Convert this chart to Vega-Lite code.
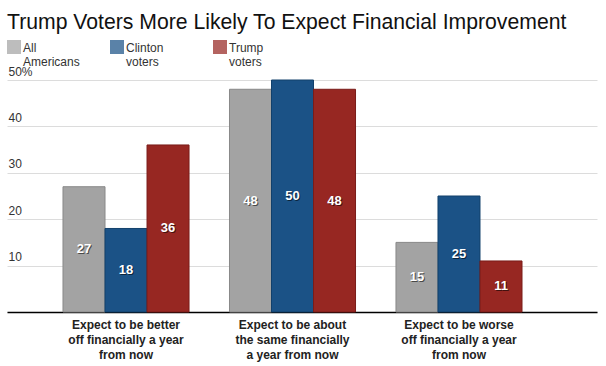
{
  "$schema": "https://vega.github.io/schema/vega-lite/v6.json",
  "autosize": "none",
  "width": 590,
  "height": 232,
  "padding": {"left": 7, "top": 80, "right": 9, "bottom": 54},
  "title": {
    "text": "Trump Voters More Likely To Expect Financial Improvement",
    "anchor": "start",
    "frame": "group",
    "font": "Liberation Sans",
    "fontSize": 21.2,
    "fontWeight": "normal",
    "color": "#111",
    "offset": 7
  },
  "config": {
    "view": {"stroke": null},
    "font": "Liberation Sans"
  },
  "data": {
    "values": [
      {"outlook": "better", "group": "All Americans", "value": 27},
      {"outlook": "better", "group": "Clinton voters", "value": 18},
      {"outlook": "better", "group": "Trump voters", "value": 36},
      {"outlook": "same", "group": "All Americans", "value": 48},
      {"outlook": "same", "group": "Clinton voters", "value": 50},
      {"outlook": "same", "group": "Trump voters", "value": 48},
      {"outlook": "worse", "group": "All Americans", "value": 15},
      {"outlook": "worse", "group": "Clinton voters", "value": 25},
      {"outlook": "worse", "group": "Trump voters", "value": 11}
    ]
  },
  "encoding": {
    "x": {
      "field": "outlook",
      "type": "nominal",
      "sort": ["better", "same", "worse"],
      "scale": {"paddingInner": 0.243, "paddingOuter": 0.3934, "align": 0.4275},
      "axis": {
        "title": null,
        "labelAngle": 0,
        "ticks": false,
        "domainColor": "#000",
        "domainWidth": 1.5,
        "labelFont": "Liberation Sans",
        "labelFontSize": 12,
        "labelFontWeight": "bold",
        "labelColor": "#222",
        "labelLineHeight": 15,
        "labelPadding": 7,
        "labelExpr": "datum.label == 'better' ? ['Expect to be better', 'off financially a year', 'from now'] : datum.label == 'same' ? ['Expect to be about', 'the same financially', 'a year from now'] : ['Expect to be worse', 'off financially a year', 'from now']"
      }
    },
    "xOffset": {"field": "group", "type": "nominal", "sort": ["All Americans", "Clinton voters", "Trump voters"], "scale": {"paddingInner": 0, "paddingOuter": 0}}
  },
  "layer": [
    {
      "mark": {"type": "bar", "strokeWidth": 1},
      "encoding": {
        "y": {
          "field": "value",
          "type": "quantitative",
          "scale": {"domain": [0, 50], "nice": false},
          "axis": {
            "title": null,
            "domain": false,
            "ticks": false,
            "gridColor": "#dcdcdc",
            "gridWidth": 1,
            "values": [0, 10, 20, 30, 40, 50],
            "labelAlign": "left",
            "labelBaseline": "bottom",
            "labelPadding": -1,
            "labelOffset": -2,
            "labelFont": "Liberation Sans",
            "labelFontSize": 12,
            "labelColor": "#333",
            "labelExpr": "datum.value == 0 ? '' : datum.value == 50 ? '50%' : datum.label"
          }
        },
        "color": {
          "field": "group",
          "type": "nominal",
          "sort": ["All Americans", "Clinton voters", "Trump voters"],
          "scale": {"range": ["#a3a3a3", "#1b5286", "#972722"]},
          "legend": {
            "title": null,
            "orient": "none",
            "legendX": 0,
            "legendY": -40,
            "direction": "horizontal",
            "columns": 3,
            "gridAlign": "all",
            "columnPadding": 30,
            "symbolType": "square",
            "symbolSize": 196,
            "symbolStrokeWidth": 0,
            "symbolOpacity": 0.72,
            "labelOffset": 2,
            "labelFont": "Liberation Sans",
            "labelFontSize": 12,
            "labelColor": "#333",
            "labelAlign": "left",
            "labelBaseline": "top",
            "labelLineHeight": 15,
            "labelLimit": 200,
            "labelExpr": "split(datum.label, ' ')",
            "encode": {
              "labels": {"update": {"dy": {"value": -4}}}
            }
          }
        },
        "stroke": {
          "field": "group",
          "type": "nominal",
          "sort": ["All Americans", "Clinton voters", "Trump voters"],
          "scale": {"range": ["#888888", "#12406b", "#7a1c19"]},
          "legend": null
        }
      }
    },
    {
      "mark": {"type": "text", "fontSize": 13, "fontWeight": "bold", "fill": "#000", "opacity": 0.55, "dx": 1, "dy": 1, "baseline": "middle"},
      "encoding": {
        "y": {"field": "value", "type": "quantitative", "scale": {"domain": [0, 100], "nice": false}, "axis": null},
        "text": {"field": "value", "type": "quantitative"}
      }
    },
    {
      "mark": {"type": "text", "fontSize": 13, "fontWeight": "bold", "fill": "#fff", "baseline": "middle"},
      "encoding": {
        "y": {"field": "value", "type": "quantitative", "scale": {"domain": [0, 100], "nice": false}, "axis": null},
        "text": {"field": "value", "type": "quantitative"}
      }
    }
  ],
  "resolve": {"scale": {"y": "independent"}}
}
